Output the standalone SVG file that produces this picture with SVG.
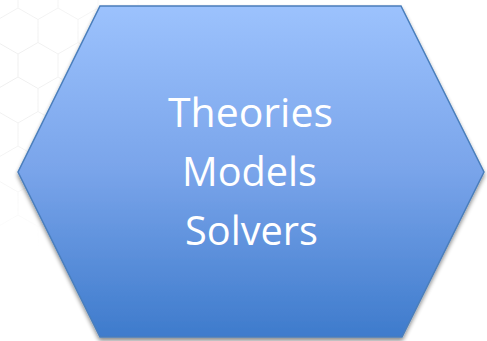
<svg xmlns="http://www.w3.org/2000/svg" width="487" height="341" viewBox="0 0 487 341">
  <defs>
    <style>
      .bghex { fill: none; stroke: #ececec; stroke-width: 1; }
      .hex { fill: url(#hexFill); stroke: #4a7ebb; stroke-width: 1.5; stroke-linejoin: miter; }
      .label { font-family: "Open Sans", "Noto Sans", "Liberation Sans", sans-serif; font-size: 40px; fill: #ffffff; text-anchor: middle; }
    </style>
    <linearGradient id="hexFill" x1="0" y1="0" x2="0" y2="1">
      <stop offset="0" stop-color="#9cc2fd"/>
      <stop offset="0.5" stop-color="#79a4ea"/>
      <stop offset="1" stop-color="#3e7bcc"/>
    </linearGradient>
    <pattern id="honey" x="-2" y="8" width="40" height="69" patternUnits="userSpaceOnUse">
      <path class="bghex" d="M20,0 L40,11.5 L40,34.5 L20,46 L0,34.5 L0,11.5 Z M20,46 L20,69"/>
    </pattern>
    <radialGradient id="fade" cx="0" cy="70" r="180" gradientUnits="userSpaceOnUse">
      <stop offset="0" stop-color="#fff" stop-opacity="0.9"/>
      <stop offset="0.6" stop-color="#fff" stop-opacity="0.5"/>
      <stop offset="1" stop-color="#fff" stop-opacity="0"/>
    </radialGradient>
    <mask id="fadeMask">
      <rect x="0" y="0" width="487" height="341" fill="url(#fade)"/>
    </mask>
    <filter id="shadow" x="-10%" y="-10%" width="120%" height="120%">
      <feGaussianBlur in="SourceAlpha" stdDeviation="2"/>
      <feOffset dx="0" dy="3" result="b"/>
      <feComponentTransfer><feFuncA type="linear" slope="0.45"/></feComponentTransfer>
      <feMerge><feMergeNode/><feMergeNode in="SourceGraphic"/></feMerge>
    </filter>
  </defs>
  <rect width="487" height="341" fill="#ffffff"/>
  <g id="background">
    <rect x="0" y="0" width="200" height="280" fill="url(#honey)" mask="url(#fadeMask)"/>
  </g>
  <g id="connectors"/>
  <g id="node-theories">
    <polygon class="hex" filter="url(#shadow)" points="100,6 401,6 484,172 402,337 100,337 18,172"/>
    <text class="label" x="250.5" y="127" textLength="165" lengthAdjust="spacingAndGlyphs">Theories</text>
    <text class="label" x="249.5" y="186" textLength="135" lengthAdjust="spacingAndGlyphs">Models</text>
    <text class="label" x="251.5" y="245" textLength="133" lengthAdjust="spacingAndGlyphs">Solvers</text>
  </g>
</svg>
